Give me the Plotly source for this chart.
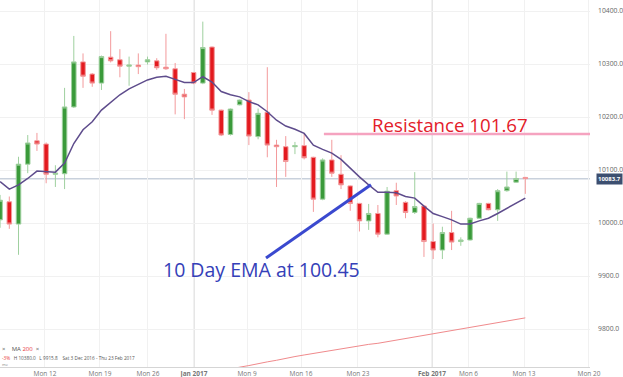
import plotly.graph_objects as go

# ---- data ----
opens = [10006, 10040, 9998, 10111, 10155, 10149, 10092, 10093, 10219, 10304,
         10281, 10264, 10313, 10308, 10296, 10298, 10304, 10306, 10294, 10291,
         10243, 10284, 10264, 10332, 10213, 10167, 10223, 10232, 10163, 10209,
         10147, 10144, 10144, 10146, 10124, 10045, 10119, 10092, 10070, 10037,
         10004, 10018, 9979, 10061, 10039, 10020, 10032, 9965, 9949, 9982,
         9965, 9968, 10009, 10037, 10025, 10061, 10077, 10086]
highs = [10053, 10050, 10125, 10166, 10170, 10152, 10109, 10255, 10353, 10320,
         10283, 10316, 10362, 10328, 10314, 10320, 10314, 10311, 10357, 10302,
         10253, 10285, 10380, 10333, 10214, 10216, 10233, 10247, 10216, 10294,
         10157, 10164, 10153, 10169, 10125, 10122, 10157, 10128, 10071, 10038,
         10036, 10034, 10068, 10076, 10041, 10096, 10034, 9999, 9993, 10023,
         9973, 10010, 10038, 10038, 10064, 10097, 10097, 10087]
lows = [9991, 9989, 9940, 10094, 10136, 10075, 10068, 10064, 10217, 10255,
        10257, 10251, 10303, 10275, 10259, 10281, 10299, 10289, 10289, 10205,
        10196, 10262, 10262, 10204, 10164, 10165, 10222, 10147, 10158, 10124,
        10068, 10087, 10130, 10120, 10021, 10043, 10087, 10064, 10023, 9984,
        9987, 9973, 9978, 10034, 10009, 10017, 9936, 9932, 9932, 9949,
        9957, 9967, 10008, 10024, 10004, 10059, 10076, 10055]
closes = [10043, 9998, 10111, 10151, 10149, 10092, 10094, 10219, 10304, 10277,
          10264, 10314, 10306, 10296, 10298, 10295, 10308, 10293, 10291, 10243,
          10238, 10264, 10331, 10213, 10166, 10215, 10232, 10164, 10207, 10147,
          10144, 10116, 10146, 10123, 10045, 10119, 10094, 10072, 10037, 10004,
          10018, 9979, 10060, 10051, 10020, 10031, 9965, 9949, 9982, 9964,
          9968, 10009, 10037, 10025, 10061, 10068, 10084, 10083.7]
ema10 = [10078, 10064, 10072, 10084, 10098, 10097, 10096, 10113, 10150, 10176,
         10191, 10213, 10228, 10242, 10253, 10262, 10270, 10275, 10277, 10271,
         10265, 10265, 10276, 10266, 10248, 10242, 10238, 10229, 10223, 10210,
         10194, 10183, 10177, 10169, 10147, 10139, 10132, 10120, 10103, 10087,
         10072, 10058, 10058, 10057, 10050, 10047, 10032, 10018, 10012, 10006,
         9998, 9998, 10004, 10009, 10018, 10028, 10037, 10047]
ma200 = [9713, 9717, 9721, 9724, 9728, 9731, 9735, 9738, 9741, 9745,
         9748, 9751, 9754, 9757, 9759, 9762, 9765, 9768, 9771, 9773,
         9776, 9779, 9782, 9785, 9788, 9791, 9794, 9797, 9800, 9803,
         9806, 9809, 9812, 9815, 9818, 9821]
ma200_start = 23  # first bar (1-based) carrying the MA 200 value
tick_pos = [5.87, 11.84, 17.05, 22.04, 27.8, 33.66, 39.84, 47.87, 51.83, 57.86, 64.91]
tick_labels = ["Mon 12", "Mon 19", "Mon 26", "<b>Jan 2017</b>", "Mon 9", "Mon 16",
               "Mon 23", "<b>Feb 2017</b>", "Mon 6", "Mon 13", "Mon 20"]
y_ticks = [9800, 9900, 10000, 10100, 10200, 10300, 10400]
last_price = 10083.7
resistance = 10168
ema_line = [(29.86, 9934), (41.25, 10072)]

bars = list(range(1, len(opens) + 1))

fig = go.Figure()
fig.add_trace(go.Candlestick(
    x=bars, open=opens, high=highs, low=lows, close=closes,
    increasing=dict(fillcolor="#3a9a3a", line=dict(color="#9fd09f", width=1)),
    decreasing=dict(fillcolor="#e31a1f", line=dict(color="#f39a9c", width=1)),
    whiskerwidth=0, showlegend=False, hoverinfo="skip"))
fig.add_trace(go.Scatter(x=bars, y=ema10, mode="lines",
                         line=dict(color="#5e4c8c", width=1.5),
                         showlegend=False, hoverinfo="skip"))
fig.add_trace(go.Scatter(x=bars[ma200_start - 1:], y=ma200, mode="lines",
                         line=dict(color="#f08a8c", width=1),
                         showlegend=False, hoverinfo="skip"))

shapes = []
# darker month separators
for pos, lab in zip(tick_pos, tick_labels):
    if "2017" in lab:
        shapes.append(dict(type="line", xref="x", yref="paper", x0=pos, x1=pos,
                           y0=0, y1=1, line=dict(color="#dcdcdc", width=1.5), layer="below"))
# last price line
shapes.append(dict(type="line", xref="paper", yref="y", x0=0, x1=1,
                   y0=last_price, y1=last_price, line=dict(color="#c9d1dc", width=1.5),
                   layer="below"))
# resistance line
shapes.append(dict(type="line", xref="paper", yref="y", x0=0.549, x1=1,
                   y0=resistance, y1=resistance, line=dict(color="#f5a3c0", width=2.5)))
# EMA pointer line
shapes.append(dict(type="line", xref="x", yref="y",
                   x0=ema_line[0][0], y0=ema_line[0][1], x1=ema_line[1][0], y1=ema_line[1][1],
                   line=dict(color="#3a49cf", width=3)))

annotations = [
    dict(xref="paper", yref="paper", x=0.7627, y=0.66, xanchor="center", yanchor="middle",
         text="Resistance 101.67",
         showarrow=False, font=dict(family="Open Sans", size=18.7, color="#e3202a")),
    dict(xref="paper", yref="paper", x=0.444, y=0.265, xanchor="center", yanchor="middle",
         text="10 Day EMA at 100.45",
         showarrow=False, font=dict(family="Open Sans", size=19.5, color="#3540b8")),
    dict(xref="paper", yref="y", x=1, y=last_price, xanchor="left", yanchor="middle", xshift=6,
         text="<b>10083.7</b>", showarrow=False, bgcolor="#3c4f70", borderpad=1,
         font=dict(family="Open Sans", size=6, color="white")),
    dict(xref="paper", yref="paper", x=0.0, y=0.049, xanchor="left", yanchor="middle",
         text="×    MA <span style='color:#e8383d'>200</span>  ×", showarrow=False,
         font=dict(family="Open Sans", size=6, color="#555")),
    dict(xref="paper", yref="paper", x=0.0, y=0.024, xanchor="left", yanchor="middle",
         text="<span style='color:#e8383d'>-3%</span>   H 10380.0   L 9915.8    Sat 3 Dec 2016 - Thu 23 Feb 2017",
         showarrow=False, font=dict(family="Open Sans", size=4.7, color="#555")),
    dict(xref="paper", yref="paper", x=0.0, y=0.006, xanchor="left", yanchor="middle",
         text="me", showarrow=False, font=dict(family="Open Sans", size=4, color="#888")),
]

fig.update_layout(
    width=623, height=377,
    margin=dict(l=0, r=33, t=0, b=10),
    plot_bgcolor="white", paper_bgcolor="white",
    shapes=shapes, annotations=annotations,
    font=dict(family="Open Sans"),
    xaxis=dict(range=[0.99, 65.02], tickvals=tick_pos, ticktext=tick_labels,
               showgrid=True, gridcolor="#f1f1f1", zeroline=False,
               showline=True, linecolor="#d5d5d5", ticks="",
               tickfont=dict(size=6.5, color="#777"), rangeslider=dict(visible=False),
               automargin=False),
    yaxis=dict(side="right", range=[9728.3, 10420.8], tickvals=y_ticks,
               tickformat=".1f", showgrid=True, gridcolor="#f1f1f1", zeroline=False,
               ticks="", ticklabelstandoff=7,
               tickfont=dict(size=6.8, color="#666"), automargin=False),
)

fig.write_html("out.html", config={"displayModeBar": False},
               post_script="document.body.style.margin='0px';document.body.style.overflow='hidden';")
